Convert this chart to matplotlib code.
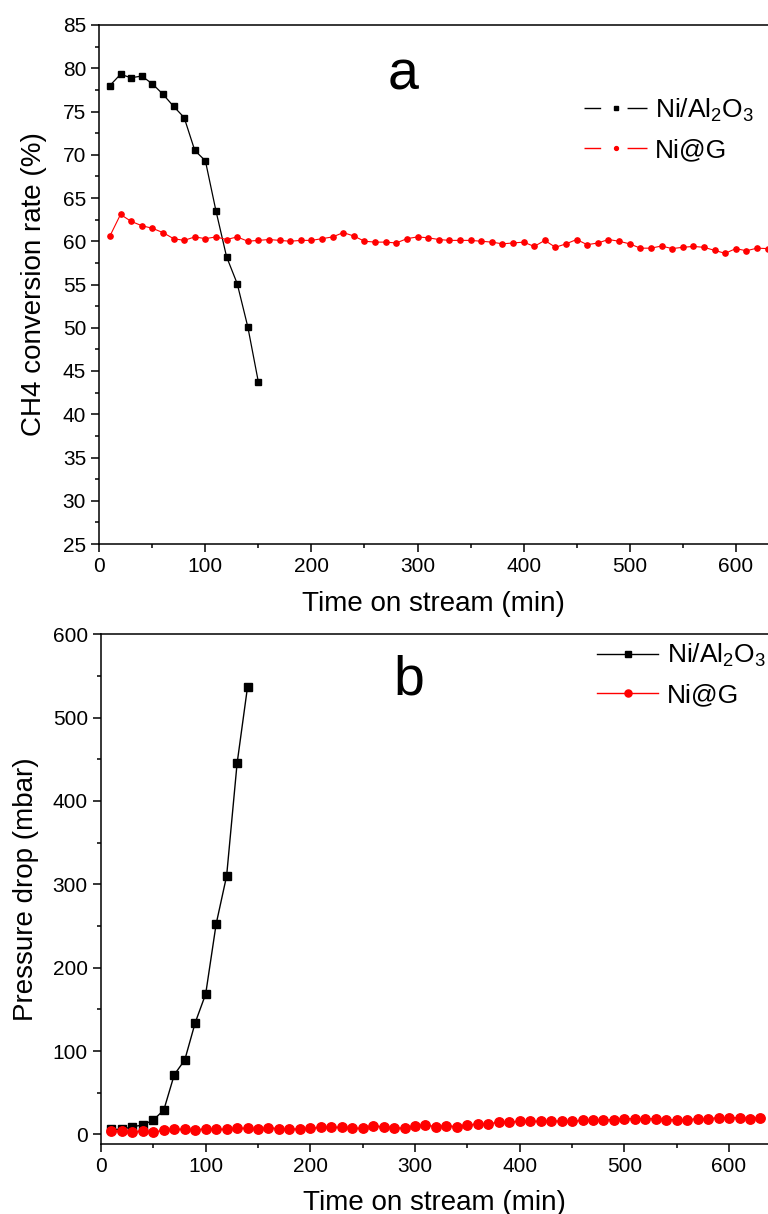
import matplotlib
matplotlib.use("Agg")
import matplotlib.pyplot as plt
from matplotlib.lines import Line2D
from matplotlib.ticker import MultipleLocator

plt.rcParams["font.family"] = ["Liberation Sans", "DejaVu Sans"]
plt.rcParams["mathtext.fontset"] = "custom"
plt.rcParams["mathtext.rm"] = "Liberation Sans"
plt.rcParams["mathtext.default"] = "regular"

# (a) CH4 conversion rate (%)
t_al_a = [10, 20, 30, 40, 50, 60, 70, 80, 90, 100, 110, 120, 130, 140, 150]
conv_al = [78.0, 79.3, 78.9, 79.1, 78.2, 77.0, 75.6, 74.3, 70.5, 69.3, 63.5, 58.2, 55.1, 50.1, 43.7]

t_g_a = list(range(10, 640, 10))
conv_g = [60.6, 63.1, 62.3, 61.8, 61.5, 61.0, 60.3, 60.1, 60.5, 60.3,
          60.5, 60.2, 60.5, 60.0, 60.1, 60.2, 60.1, 60.0, 60.1, 60.1,
          60.3, 60.5, 61.0, 60.6, 60.0, 59.9, 59.9, 59.8, 60.3, 60.5,
          60.4, 60.2, 60.1, 60.1, 60.1, 60.0, 59.9, 59.7, 59.8, 59.9,
          59.4, 60.1, 59.3, 59.7, 60.2, 59.6, 59.8, 60.2, 60.0, 59.7,
          59.2, 59.2, 59.45, 59.15, 59.3, 59.4, 59.3, 58.95, 58.6, 59.15,
          58.9, 59.2, 59.15]

# (b) pressure drop (mbar)
t_al_b = [10, 20, 30, 40, 50, 60, 70, 80, 90, 100, 110, 120, 130, 140]
dp_al = [6.0, 6.0, 9.2, 11.2, 17.2, 29.2, 71.6, 89.2, 134, 168.4, 252.4, 310, 445, 537]

t_g_b = list(range(10, 640, 10))
dp_g = [4.0, 4.0, 2.4, 4.4, 2.4, 5.2, 6.0, 6.0, 5.2, 6.8,
        6.0, 6.0, 7.2, 7.2, 6.0, 8.0, 6.8, 6.8, 6.0, 7.2,
        8.4, 8.4, 8.4, 7.2, 7.2, 10.0, 9.2, 8.0, 7.2, 10.4,
        11.2, 9.2, 10.4, 9.2, 11.2, 12.4, 12.4, 14.8, 14.8, 15.6,
        15.6, 15.6, 16.4, 15.6, 15.6, 16.8, 17.6, 17.6, 17.6, 18.8,
        18.8, 18.8, 18.8, 17.6, 17.6, 17.6, 18.8, 18.8, 20.0, 20.0,
        20.0, 18.8, 20.0]

LABELS = ["Ni/Al$_2$O$_3$", "Ni@G"]

W, H = 768, 1214
fig = plt.figure(figsize=(W / 100, H / 100), dpi=100)


def px_axes(left, top, right, bottom):
    return fig.add_axes([left / W, 1 - bottom / H, (right - left) / W, (bottom - top) / H])


def style_axes(ax):
    ax.spines["right"].set_visible(False)
    for s in ("left", "bottom", "top"):
        ax.spines[s].set_linewidth(1.1)
    ax.tick_params(which="both", direction="out", top=False, right=False, width=1.1)
    ax.tick_params(which="major", length=5.5, labelsize=15, pad=4)
    ax.tick_params(which="minor", length=3)


# ---- panel a ----
ax1 = px_axes(99.3, 25, 768, 544)
ax1.plot(t_al_a, conv_al, color="black", lw=0.9, marker="s", ms=3.8)
ax1.plot(t_g_a, conv_g, color="red", lw=0.8, marker="o", ms=3.8)
ax1.set_xlim(0, 630.4)
ax1.set_ylim(25, 85)
ax1.xaxis.set_major_locator(MultipleLocator(100))
ax1.xaxis.set_minor_locator(MultipleLocator(50))
ax1.yaxis.set_major_locator(MultipleLocator(5))
ax1.yaxis.set_minor_locator(MultipleLocator(2.5))
style_axes(ax1)
ax1.set_xlabel("Time on stream (min)", fontsize=20, labelpad=11)
ax1.set_ylabel("CH4 conversion rate (%)", fontsize=20, labelpad=11)
ax1.text(0.455, 0.875, "a", transform=ax1.transAxes, fontsize=40, ha="center", va="baseline")

# legend handle with gaps around the marker (line - marker - line)
gap = (0, (12, 19, 15, 20))
h_a = [Line2D([], [], color="black", lw=1.0, ls=gap, marker="s", ms=2.8, markevery=[1]),
       Line2D([], [], color="red", lw=1.0, ls=gap, marker="o", ms=2.8, markevery=[1])]
ax1.legend(h_a, LABELS, loc="upper left", bbox_to_anchor=(0.725, 0.862),
           frameon=False, fontsize=19, handlelength=2.4, handletextpad=0.3,
           borderpad=0, borderaxespad=0, labelspacing=0.55)

# ---- panel b ----
ax2 = px_axes(101, 634.3, 768, 1143.7)
ax2.plot(t_al_b, dp_al, color="black", lw=1.0, marker="s", ms=5.8)
ax2.plot(t_g_b, dp_g, color="red", lw=1.0, marker="o", ms=6.8)
ax2.set_xlim(0, 637.2)
ax2.set_ylim(-11.2, 600)
ax2.xaxis.set_major_locator(MultipleLocator(100))
ax2.xaxis.set_minor_locator(MultipleLocator(50))
ax2.yaxis.set_major_locator(MultipleLocator(100))
ax2.yaxis.set_minor_locator(MultipleLocator(50))
style_axes(ax2)
ax2.set_xlabel("Time on stream (min)", fontsize=20, labelpad=10)
ax2.set_ylabel("Pressure drop (mbar)", fontsize=20, labelpad=10)
ax2.text(0.462, 0.882, "b", transform=ax2.transAxes, fontsize=40, ha="center", va="baseline")

ax2.legend(LABELS, loc="upper left", bbox_to_anchor=(0.744, 0.985),
           frameon=False, fontsize=19, handlelength=2.3, handletextpad=0.35,
           borderpad=0, borderaxespad=0, labelspacing=0.55, markerscale=0.75)

fig.savefig("out.png", dpi=100)
